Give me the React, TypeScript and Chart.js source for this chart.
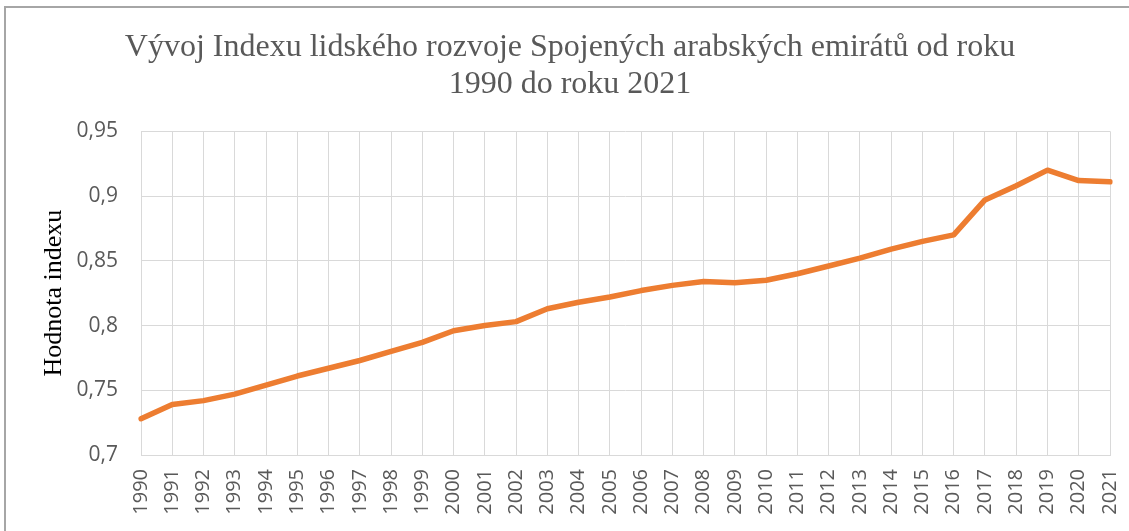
import React, { useEffect, useRef } from "react";
import { Chart, registerables } from "chart.js";

Chart.register(...registerables);

const years: string[] = [
  "1990", "1991", "1992", "1993", "1994", "1995", "1996", "1997", "1998", "1999",
  "2000", "2001", "2002", "2003", "2004", "2005", "2006", "2007", "2008", "2009",
  "2010", "2011", "2012", "2013", "2014", "2015", "2016", "2017", "2018", "2019",
  "2020", "2021",
];

const hdiValues: number[] = [
  0.728, 0.739, 0.742, 0.747, 0.754, 0.761, 0.767, 0.773, 0.780, 0.787,
  0.796, 0.800, 0.803, 0.813, 0.818, 0.822, 0.827, 0.831, 0.834, 0.833,
  0.835, 0.840, 0.846, 0.852, 0.859, 0.865, 0.870, 0.897, 0.908, 0.920,
  0.912, 0.911,
];

const titleLines: string[] = [
  "Vývoj Indexu lidského rozvoje Spojených arabských emirátů od roku",
  "1990 do roku 2021",
];
const yAxisTitle = "Hodnota indexu";
const yMin = 0.7;
const yMax = 0.95;
const yStep = 0.05;

export default function App() {
  const canvasRef = useRef<HTMLCanvasElement | null>(null);

  useEffect(() => {
    const prevMargin = document.body.style.margin;
    document.body.style.margin = "0";
    document.body.style.overflow = "hidden";
    document.documentElement.style.overflow = "hidden";
    if (!canvasRef.current) return;
    const chart = new Chart(canvasRef.current, {
      type: "line",
      data: {
        labels: years,
        datasets: [
          {
            data: hdiValues,
            borderColor: "#ED7D31",
            backgroundColor: "#ED7D31",
            borderWidth: 5.5,
            pointRadius: 0,
            pointHoverRadius: 0,
            tension: 0,
            borderCapStyle: "round",
            borderJoinStyle: "round",
          },
        ],
      },
      options: {
        animation: false,
        responsive: false,
        maintainAspectRatio: false,
        layout: { padding: { left: 11, right: 0, top: 0, bottom: 0 } },
        plugins: {
          legend: { display: false },
          tooltip: { enabled: false },
          title: {
            display: true,
            text: titleLines,
            color: "#595959",
            font: { family: "'Liberation Serif', 'Times New Roman', serif", size: 32, weight: "normal", lineHeight: 1.13 },
            padding: { top: 30, bottom: 29 },
          },
        },
        scales: {
          x: {
            offset: false,
            grid: { color: "#d9d9d9", lineWidth: 1, drawTicks: false },
            border: { color: "#d9d9d9" },
            ticks: {
              color: "#595959",
              font: { family: "'Open Sans', sans-serif", size: 20 },
              maxRotation: 90,
              minRotation: 90,
              autoSkip: false,
              padding: 14,
            },
            afterFit: (scale: any) => {
              scale.height = 76;
              scale.paddingLeft = 0;
              scale.paddingRight = 19;
            },
          },
          y: {
            min: yMin,
            max: yMax,
            grid: { color: "#d9d9d9", lineWidth: 1, drawTicks: false },
            border: { display: false },
            ticks: {
              stepSize: yStep,
              color: "#595959",
              font: { family: "'Open Sans', sans-serif", size: 21 },
              padding: 23,
              callback: (v: any) => String(Math.round(Number(v) * 100) / 100).replace(".", ","),
            },
            title: {
              display: true,
              text: yAxisTitle,
              color: "#000000",
              font: { family: "'Liberation Serif', 'Times New Roman', serif", size: 26, weight: "normal", lineHeight: 1.2 },
              padding: { top: 28, bottom: 0 },
            },
            afterFit: (scale: any) => {
              scale.width = 130;
            },
          },
        },
      },
    });
    return () => {
      chart.destroy();
      document.body.style.margin = prevMargin;
    };
  }, []);

  return (
    <div style={{ position: "relative", width: 1129, height: 531, overflow: "hidden", background: "#fff" }}>
      <canvas ref={canvasRef} width={1129} height={531} style={{ position: "absolute", left: 0, top: 0, width: 1129, height: 531 }} />
      <div style={{ position: "absolute", left: 4, top: 6, width: 1125, height: 2, background: "#a6a6a6", pointerEvents: "none" }} />
      <div style={{ position: "absolute", left: 4, top: 6, width: 2, height: 525, background: "#a6a6a6", pointerEvents: "none" }} />
    </div>
  );
}
